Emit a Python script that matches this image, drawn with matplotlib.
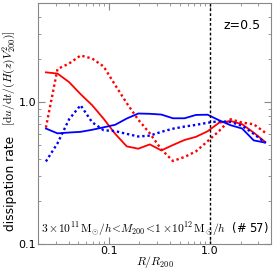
import numpy as np
import matplotlib
matplotlib.use("Agg")
import matplotlib.pyplot as plt
from matplotlib.ticker import FixedLocator, NullFormatter, LogLocator

plt.rcParams['mathtext.fontset'] = 'cm'
plt.rcParams['font.family'] = ['DejaVu Sans']

r = [0.0239, 0.0311, 0.0405, 0.0526, 0.0684, 0.0889, 0.1156, 0.1503, 0.1954, 0.2541,
     0.3304, 0.4295, 0.5585, 0.7261, 0.944, 1.227, 1.596, 2.075, 2.698, 3.508]
red_solid = [1.623, 1.591, 1.385, 1.139, 0.952, 0.764, 0.598, 0.488, 0.470, 0.504,
             0.457, 0.499, 0.541, 0.570, 0.623, 0.716, 0.737, 0.699, 0.610, 0.524]
red_dotted = [0.662, 1.712, 1.873, 2.133, 2.032, 1.784, 1.319, 0.984, 0.752, 0.603,
              0.465, 0.385, 0.411, 0.450, 0.530, 0.626, 0.758, 0.718, 0.699, 0.610]
blue_solid = [0.652, 0.603, 0.611, 0.618, 0.639, 0.665, 0.693, 0.767, 0.832, 0.828,
              0.818, 0.770, 0.770, 0.813, 0.816, 0.746, 0.688, 0.652, 0.538, 0.519]
blue_dotted = [0.382, 0.513, 0.758, 0.952, 0.722, 0.634, 0.625, 0.598, 0.573, 0.581,
               0.618, 0.650, 0.673, 0.692, 0.716, 0.734, 0.725, 0.682, 0.598, 0.519]
x_ticks = [0.1, 1.0]
x_ticklabels = ['0.1', '1.0']
y_ticks = [0.1, 1.0]
y_ticklabels = ['0.1', '1.0']

fig = plt.figure(figsize=(2.74, 2.73), dpi=100)
ax = fig.add_axes([0.139, 0.106, 0.850, 0.883])

ax.plot(r, red_solid, color='red', lw=1.3, ls='-')
ax.plot(r, red_dotted, color='red', lw=1.7, ls=(0, (1, 1.2)))
ax.plot(r, blue_solid, color='blue', lw=1.3, ls='-')
ax.plot(r, blue_dotted, color='blue', lw=1.7, ls=(0, (1, 1.2)))
ax.axvline(1.0, color='black', lw=1.0, ls=(0, (2, 1.5)))

ax.set_xscale('log')
ax.set_yscale('log')
ax.set_xlim(0.02, 4.0)
ax.set_ylim(0.1, 5.0)

ax.xaxis.set_major_locator(FixedLocator(x_ticks))
ax.set_xticklabels(x_ticklabels)
ax.yaxis.set_major_locator(FixedLocator(y_ticks))
ax.set_yticklabels(y_ticklabels)
ax.xaxis.set_minor_locator(LogLocator(base=10, subs=np.arange(2, 10)))
ax.yaxis.set_minor_locator(LogLocator(base=10, subs=np.arange(2, 10)))
ax.xaxis.set_minor_formatter(NullFormatter())
ax.yaxis.set_minor_formatter(NullFormatter())

gray = '#888888'
for s in ax.spines.values():
    s.set_color(gray)
    s.set_linewidth(0.8)
ax.tick_params(which='both', direction='in', top=True, right=True, color=gray,
               labelsize=8, pad=1.5)
ax.tick_params(which='major', length=5, width=0.8)
ax.tick_params(which='minor', length=2.5, width=0.6)

ax.set_xlabel(r'$R/R_{200}$', fontsize=8.5)
ax.xaxis.set_label_coords(0.5, -0.042)

# y label in two pieces (sans text + math part), as in the reference
fig.text(10.5 / 274, 1 - 231 / 273, 'dissipation rate', rotation=90,
         ha='center', va='bottom', fontsize=8.8)
fig.text(9.5 / 274, 1 - 126 / 273,
         r'$[\mathrm{d}u/\mathrm{d}t/(H(z)V^2_{200})]$', rotation=90,
         ha='center', va='bottom', fontsize=8.4)

ax.text(0.955, 0.905, 'z=0.5', transform=ax.transAxes, ha='right', va='center',
        fontsize=9)
ax.text(0.012, 0.062,
        r'$3\times\!10^{11}\,\mathrm{M}_{\odot}/h\!<\!M_{200}\!<\!1\times\!10^{12}\,\mathrm{M}_{\odot}/h$'
        + '  (# 57)',
        transform=ax.transAxes, ha='left', va='center', fontsize=8.3)

fig.savefig('out.png', dpi=100)
